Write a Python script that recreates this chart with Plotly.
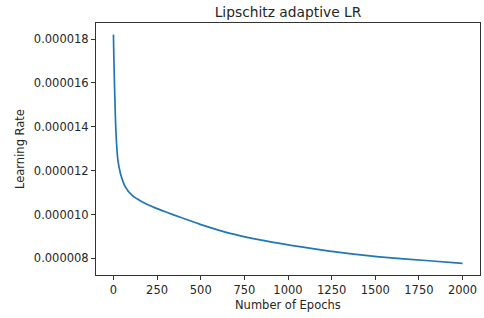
import plotly.graph_objects as go

# Values
epochs = [0, 2, 5, 9, 13, 18, 25, 40, 68, 106, 163, 239, 305, 383, 497, 668, 953, 1238, 1522, 1807, 2000]
learning_rate = [18.2e-6, 17.3e-6, 16.2e-6, 15.0e-6, 14.0e-6, 13.2e-6, 12.5e-6, 11.87e-6, 11.26e-6,
                 10.88e-6, 10.58e-6, 10.3e-6, 10.1e-6, 9.87e-6, 9.55e-6, 9.14e-6, 8.68e-6, 8.33e-6,
                 8.07e-6, 7.89e-6, 7.77e-6]
x_ticks = [0, 250, 500, 750, 1000, 1250, 1500, 1750, 2000]
y_ticks = [8e-6, 10e-6, 12e-6, 14e-6, 16e-6, 18e-6]

FONT = "DejaVu Sans"
TXT = "#262626"

fig = go.Figure(go.Scatter(
    x=epochs, y=learning_rate, mode="lines",
    line=dict(color="#1f77b4", width=1.7, shape="spline", smoothing=0.5),
))

axis_common = dict(
    showgrid=False, zeroline=False, showline=True, mirror=True,
    linecolor="#333333", linewidth=1, ticks="outside", ticklen=4,
    tickcolor="#333333", tickwidth=1, automargin=False,
    tickfont=dict(family=FONT, size=11.5, color=TXT),
)

fig.update_layout(
    width=484, height=318,
    margin=dict(l=96, r=4, t=23, b=43),
    paper_bgcolor="white", plot_bgcolor="white",
    showlegend=False,
    title=dict(text="Lipschitz adaptive LR", x=0.5, xref="paper", xanchor="center",
               y=1 - 12.5 / 318, yref="container", yanchor="middle",
               font=dict(family=FONT, size=13.8, color=TXT)),
    xaxis=dict(range=[-100, 2100], tickvals=x_ticks, **axis_common),
    yaxis=dict(range=[7.24e-6, 18.73e-6], tickvals=y_ticks, tickformat=".6f", **axis_common),
)
fig.add_annotation(text="Number of Epochs", xref="paper", x=0.5, yref="paper",
                   y=-(305 - 275) / 252, yanchor="middle", showarrow=False,
                   font=dict(family=FONT, size=11.5, color=TXT))
fig.add_annotation(text="Learning Rate", xref="paper", x=-(96 - 20) / 384, xanchor="center",
                   yref="paper", y=0.5, yanchor="middle", textangle=-90, showarrow=False,
                   font=dict(family=FONT, size=11.5, color=TXT))

fig.write_html("out.html", config={"displayModeBar": False},
               post_script="document.body.style.margin='0';document.body.style.overflow='hidden';")
